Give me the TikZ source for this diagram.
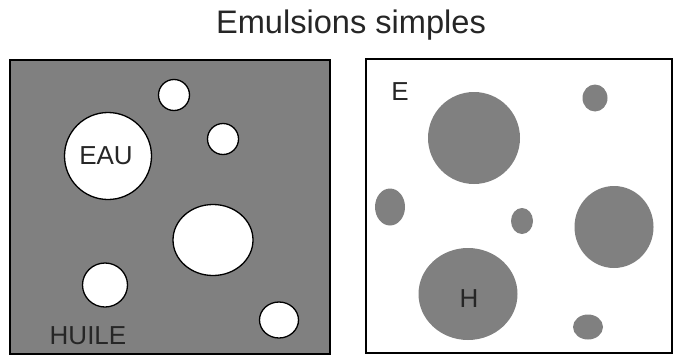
\documentclass[tikz,border=0pt]{standalone}
\usepackage{fontspec}
\setmainfont{Liberation Sans}
\definecolor{fillgray}{RGB}{128,128,128}
\begin{document}
\begin{tikzpicture}[x=1pt,y=-1pt,
  box/.style={draw=black,line width=1.8pt},
  wdrop/.style={draw=black,fill=white,line width=1.3pt},
  gdrop/.style={fill=fillgray},
  lbl/.style={inner sep=0pt,font=\fontsize{26}{26}\selectfont,text=black!85},
]
\useasboundingbox (0,0) rectangle (676,356);
% title
\node[inner sep=0pt,anchor=base,font=\fontsize{32.6}{33}\selectfont,text=black!85] (title) at (351,33) {Emulsions simples};
% left box
\filldraw[box,fill=fillgray] (10,60) rectangle (330,354);
\draw[wdrop] (174,95) circle (15.5);
\draw[wdrop] (108,156) circle (43.5);
\draw[wdrop] (223,139) circle (15.5);
\draw[wdrop] (213,240) ellipse [x radius=40,y radius=35.5];
\draw[wdrop] (105,285) ellipse [x radius=22.5,y radius=22];
\draw[wdrop] (279,320) ellipse [x radius=19.5,y radius=18];
\node[lbl] (eau) at (106,156) {EAU};
\node[lbl,anchor=base] (huile) at (88,344) {HUILE};
% right box
\draw[box] (366,59) rectangle (672,353);
\fill[gdrop] (474,138) circle (46);
\fill[gdrop] (595,98) ellipse [x radius=12.5,y radius=13.5];
\fill[gdrop] (390,207) ellipse [x radius=15,y radius=18.5];
\fill[gdrop] (522,221) ellipse [x radius=11,y radius=13];
\fill[gdrop] (614,227) ellipse [x radius=39.5,y radius=41];
\fill[gdrop] (468,294) ellipse [x radius=49.5,y radius=46];
\fill[gdrop] (588,327) ellipse [x radius=15,y radius=12.5];
\node[lbl,anchor=base] (e) at (400,100) {E};
\node[lbl,anchor=base] (h) at (469,307) {H};
\end{tikzpicture}
\end{document}
